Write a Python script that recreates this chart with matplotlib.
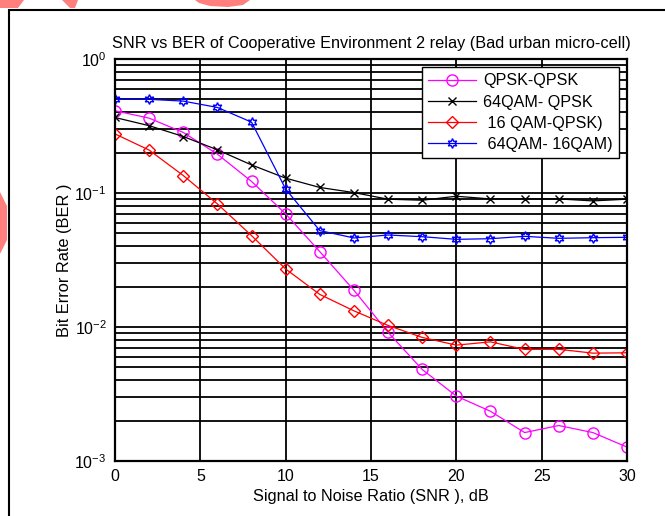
import numpy as np
import matplotlib
matplotlib.use("Agg")
import matplotlib.pyplot as plt
from matplotlib.patches import Polygon, Rectangle
from matplotlib.ticker import LogLocator, NullFormatter

plt.rcParams['font.family'] = ['Liberation Sans', 'DejaVu Sans']
plt.rcParams['mathtext.fontset'] = 'custom'
plt.rcParams['mathtext.rm'] = 'Liberation Sans'
plt.rcParams['mathtext.it'] = 'Liberation Sans'

snr = [0, 2, 4, 6, 8, 10, 12, 14, 16, 18, 20, 22, 24, 26, 28, 30]

qpsk_qpsk = [0.411, 0.362, 0.283, 0.195, 0.122, 0.0698, 0.0365, 0.0188,
             0.00912, 0.00482, 0.00305, 0.00235, 0.00163, 0.00184, 0.00163, 0.00127]
qam64_qpsk = [0.366, 0.318, 0.264, 0.210, 0.162, 0.129, 0.110, 0.1007,
              0.0899, 0.0883, 0.0946, 0.0903, 0.0903, 0.0903, 0.0873, 0.0899]
qam16_qpsk = [0.276, 0.209, 0.135, 0.0829, 0.0481, 0.0271, 0.0175, 0.0132,
              0.01027, 0.00836, 0.00732, 0.00775, 0.00680, 0.00682, 0.00638, 0.00642]
qam64_qam16 = [0.50, 0.50, 0.485, 0.435, 0.338, 0.107, 0.0524, 0.0462,
               0.0486, 0.0472, 0.0451, 0.0456, 0.0475, 0.0459, 0.0464, 0.0467]

labels = ['QPSK-QPSK', '64QAM- QPSK', ' 16 QAM-QPSK)', ' 64QAM- 16QAM)']

fig = plt.figure(figsize=(6.65, 5.16), dpi=100)

# outer frame and the pink blobs at the top left
fig.patches.append(Rectangle((9 / 665, -0.1), 1.2, 1 - 10 / 516 + 0.1,
                             transform=fig.transFigure, fill=False,
                             edgecolor='black', linewidth=1.5))
pink = '#ff7f7f'
blobs = [
    [(0, 0), (24, 0), (18, 8), (0, 8)],
    [(62, 0), (78, 0), (75, 8), (70, 8)],
    [(195, 0), (250, 0), (243, 5), (228, 7), (210, 6), (199, 3)],
    [(0, 192), (7, 206), (7, 240), (0, 254)],
]
for b in blobs:
    pts = [(x / 665, 1 - y / 516) for x, y in b]
    fig.patches.append(Polygon(pts, closed=True, transform=fig.transFigure,
                               facecolor=pink, edgecolor='none'))

ax = fig.add_axes([115 / 665, 1 - 461 / 516, 512 / 665, 402 / 516])

ax.semilogy(snr, qpsk_qpsk, color='magenta', marker='o', mfc='none',
            ms=8, lw=0.9, label=labels[0])
ax.semilogy(snr, qam64_qpsk, color='black', marker='x', ms=6, lw=0.9,
            label=labels[1])
ax.semilogy(snr, qam16_qpsk, color='red', marker='D', mfc='none', ms=6.5,
            lw=0.9, label=labels[2])
ax.semilogy(snr, qam64_qam16, color='blue', marker=(6, 1, 0), mfc='none',
            ms=7, lw=0.9, label=labels[3])

ax.set_xlim(0, 30)
ax.set_ylim(1e-3, 1)
ax.set_xticks([0, 5, 10, 15, 20, 25, 30])
ax.yaxis.set_major_locator(LogLocator(base=10, numticks=10))
ax.yaxis.set_minor_locator(LogLocator(base=10, subs=np.arange(2, 10), numticks=20))
ax.yaxis.set_minor_formatter(NullFormatter())

ax.grid(True, which='major', color='black', linestyle='-', linewidth=1.3)
ax.grid(True, which='minor', axis='y', color='black', linestyle='-', linewidth=1.3)
ax.set_axisbelow(True)
for s in ax.spines.values():
    s.set_linewidth(1.6)
ax.tick_params(which='both', direction='in', labelsize=11.5, length=0, pad=6)

ax.set_title('SNR vs BER of Cooperative Environment 2 relay (Bad urban micro-cell)',
             fontsize=11.7, pad=8)
ax.set_xlabel('Signal to Noise Ratio (SNR ), dB', fontsize=11.7, labelpad=3)
ax.set_ylabel('Bit Error Rate (BER )', fontsize=11.8, labelpad=2)

leg = ax.legend(loc='upper right', fontsize=11.6, handlelength=3.0,
                handletextpad=0.4, borderaxespad=0.5, fancybox=False,
                framealpha=1, labelspacing=0.38, borderpad=0.4)
leg.get_frame().set_edgecolor('black')
leg.get_frame().set_linewidth(1.0)

fig.savefig('out.png', dpi=100)
